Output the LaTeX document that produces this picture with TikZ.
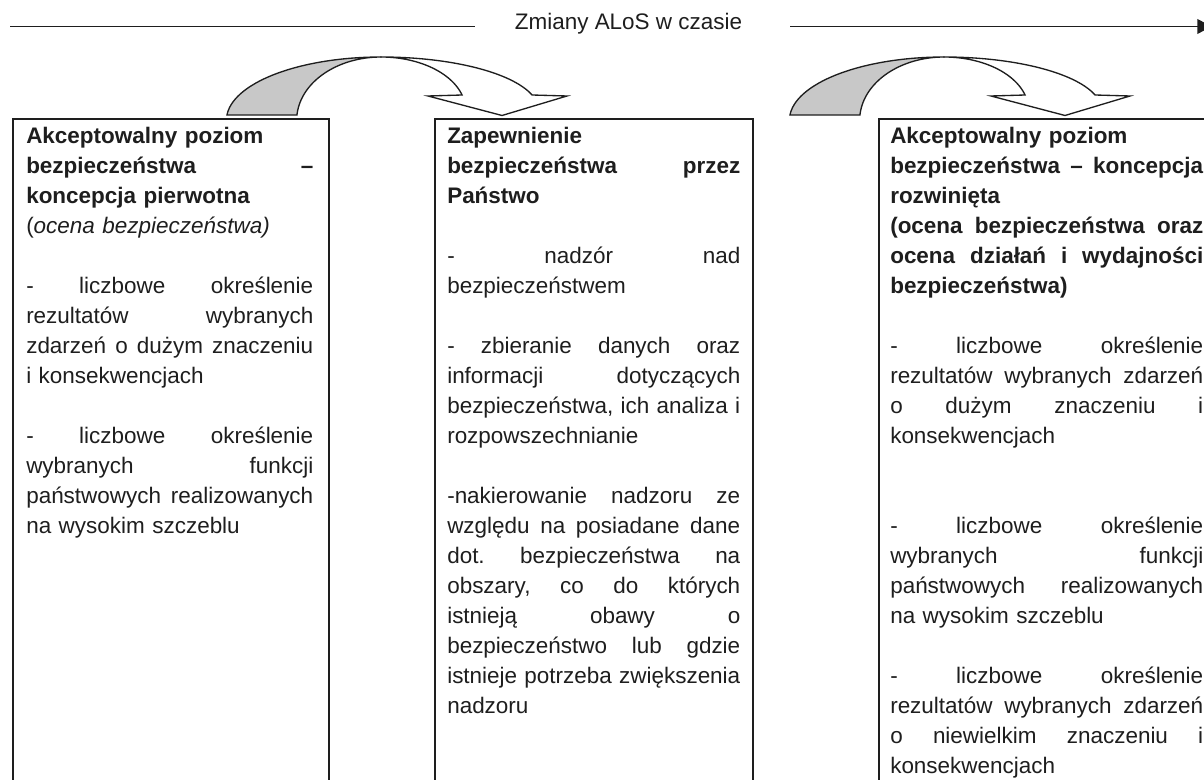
\documentclass[tikz,border=0pt]{standalone}
\usepackage{fontspec}
\setmainfont{Liberation Sans}
\usetikzlibrary{arrows.meta}
\setlength\parindent{0pt}
\newcommand\Jl[1]{\makebox[\hsize][s]{\spaceskip=.278em plus 1fil\xspaceskip=\spaceskip\relax #1}\\}
\newcommand\Bl{\mbox{}\\}
\definecolor{shade}{HTML}{C8C8C8}
\definecolor{ink}{HTML}{1E1E1E}
\tikzset{
  arr/.style={line width=1pt, draw=ink, line join=miter},
  boxframe/.style={draw=ink, line width=1.4pt, inner sep=0pt, anchor=north west, minimum height=511.5pt},
  txt/.style={anchor=base west, inner sep=0pt, align=left, text=ink,
    font=\fontsize{16.85pt}{22.5pt}\selectfont\frenchspacing},
  carrow/.pic={
    % shaded back face (left half)
    \filldraw[arr, fill=shade]
      plot[domain=175.5:90, samples=50, variable=\t] ({381+154.5*cos(\t)},{120-63*sin(\t)})
      -- plot[domain=90:175.5, samples=50, variable=\t] ({381+84.3*cos(\t)},{120-63*sin(\t)})
      -- cycle;
    % white front face with arrow head
    \filldraw[arr, fill=white]
      plot[domain=90:16.44, samples=50, variable=\t] ({381+157.5*cos(\t)},{110-53*sin(\t)})
      -- (567,96) -- (502,115.5) -- (428,96)
      -- plot[domain=16.44:90, samples=50, variable=\t] ({381+84.5*cos(\t)},{110-53*sin(\t)})
      -- cycle;
  }
}
\begin{document}
\begin{tikzpicture}[x=0.75pt, y=-0.75pt]
\useasboundingbox (0,0) rectangle (1204,780);
\clip (0,0) rectangle (1204,780);
\fill[white] (0,0) rectangle (1204,780);

% timeline
\node[txt, anchor=base] (title) at (628.5,30) {Zmiany ALoS w czasie};
\coordinate (l0) at (10,26.5);
\coordinate (l1) at (475,26.5);
\coordinate (r0) at (790,26.5);
\coordinate (r1) at (1212,26.5);
\draw[arr] (l0) -- (l1);
\draw[arr, -{Triangle[length=11pt, width=11pt]}] (r0) -- (r1);

% boxes
\node[boxframe, minimum width=237pt] (b1) at (12,118.5) {};
\node[boxframe, minimum width=238.5pt] (b2) at (434,118.5) {};
\node[boxframe, minimum width=252pt] (b3) at (878,118.5) {};

% curved arrows
\pic (a1) at (0,0) {carrow};
\pic (a2) at (563,0) {carrow};

% texts
\node[txt, text width=215.25pt] (t1) at (26,144) {%
\textbf{Akceptowalny poziom}\\
\Jl{\textbf{bezpieczeństwa –}}
\textbf{koncepcja pierwotna}\\
(\textit{ocena bezpieczeństwa)}\\
\Bl
\Jl{- liczbowe określenie}
\Jl{rezultatów wybranych}
\Jl{zdarzeń o dużym znaczeniu}
i konsekwencjach\\
\Bl
\Jl{- liczbowe określenie}
\Jl{wybranych funkcji}
\Jl{państwowych realizowanych}
na wysokim szczeblu};

\node[txt, text width=219.75pt] (t2) at (447,144) {%
\textbf{Zapewnienie}\\
\Jl{\textbf{bezpieczeństwa przez}}
\textbf{Państwo}\\
\Bl
\Jl{- nadzór nad}
bezpieczeństwem\\
\Bl
\Jl{- zbieranie danych oraz}
\Jl{informacji dotyczących}
\Jl{bezpieczeństwa, ich analiza i}
rozpowszechnianie\\
\Bl
\Jl{-nakierowanie nadzoru ze}
\Jl{względu na posiadane dane}
\Jl{dot. bezpieczeństwa na}
\Jl{obszary, co do których}
\Jl{istnieją obawy o}
\Jl{bezpieczeństwo lub gdzie}
\Jl{istnieje potrzeba zwiększenia}
nadzoru};

\node[txt, text width=234.75pt] (t3) at (890,144) {%
\textbf{Akceptowalny poziom}\\
\Jl{\textbf{bezpieczeństwa – koncepcja}}
\textbf{rozwinięta}\\
\Jl{\textbf{(ocena bezpieczeństwa oraz}}
\Jl{\textbf{ocena działań i wydajności}}
\textbf{bezpieczeństwa)}\\
\Bl
\Jl{- liczbowe określenie}
\Jl{rezultatów wybranych zdarzeń}
\Jl{o dużym znaczeniu i}
konsekwencjach\\
\Bl
\Bl
\Jl{- liczbowe określenie}
\Jl{wybranych funkcji}
\Jl{państwowych realizowanych}
na wysokim szczeblu\\
\Bl
\Jl{- liczbowe określenie}
\Jl{rezultatów wybranych zdarzeń}
\Jl{o niewielkim znaczeniu i}
konsekwencjach};
\end{tikzpicture}
\end{document}
